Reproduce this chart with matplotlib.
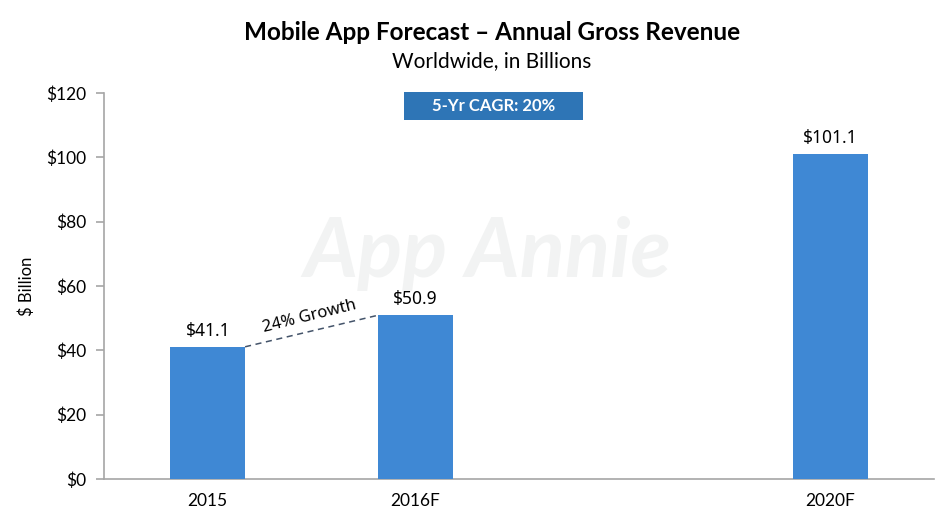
import matplotlib
matplotlib.use("Agg")
import matplotlib.pyplot as plt
from matplotlib.patches import Rectangle

categories = ["2015", "2016F", "2020F"]
positions = [0, 1, 3]
revenue = [41.1, 50.9, 101.1]
value_labels = ["$41.1", "$50.9", "$101.1"]
yticks = [0, 20, 40, 60, 80, 100, 120]
ytick_labels = ["$0", "$20", "$40", "$60", "$80", "$100", "$120"]
growth_label = "24% Growth"
cagr_label = "5-Yr CAGR: 20%"

plt.rcParams['font.family'] = ['Lato', 'DejaVu Sans']

fig = plt.figure(figsize=(9.42, 5.29), dpi=100)
fig.patch.set_facecolor("white")
ax = fig.add_axes([0.1104, 0.0945, 0.881, 0.7297])

bar_color = "#3f88d4"
width = 0.36
bars = ax.bar(positions, revenue, width=width, color=bar_color, zorder=3)

ax.set_xlim(-0.5, 3.5)
ax.set_ylim(0, 120)
ax.set_yticks(yticks)
ax.set_yticklabels(ytick_labels, fontsize=12.5)
ax.set_xticks(positions)
ax.set_xticklabels(categories, fontsize=12.5)

for s in ["top", "right"]:
    ax.spines[s].set_visible(False)
for s in ["left", "bottom"]:
    ax.spines[s].set_color("#a6a6a6")
    ax.spines[s].set_linewidth(1.2)
ax.tick_params(axis="y", length=6, color="#a6a6a6", width=1.2, pad=7)
ax.tick_params(axis="x", length=0, pad=10)
ax.set_ylabel("$ Billion", fontsize=12, labelpad=8)

# value labels
for p, v, lab in zip(positions, revenue, value_labels):
    ax.annotate(lab, (p, v), xytext=(0, 5), textcoords="offset points",
                ha="center", va="bottom", fontsize=12.5, family=["Noto Sans", "DejaVu Sans"])

# growth dashed connector
x0 = positions[0] + width / 2
x1 = positions[1] - width / 2
ax.plot([x0, x1], [revenue[0], revenue[1]], ls=(0, (4, 3)), color="#44546a", lw=1.1, zorder=4)
ax.text((x0 + x1) / 2, (revenue[0] + revenue[1]) / 2 + 2.2, growth_label,
        rotation=14, ha="center", va="bottom", fontsize=12, family=["Noto Sans", "DejaVu Sans"],
        rotation_mode="anchor")

# watermark
ax.text(1.35, 70, "App Annie", fontsize=60, style="italic", fontweight="bold", color="#f2f3f3",
        ha="center", va="center", zorder=1, family=["Lato", "DejaVu Sans"])

# CAGR box
ax.add_patch(Rectangle((0.946, 111.6), 0.862, 8.7, facecolor="#2e75b6", edgecolor="none",
                       clip_on=False, zorder=5))
ax.text(0.946 + 0.431, 115.95, cagr_label, ha="center", va="center", fontsize=12,
        fontweight="bold", color="white", zorder=6)

fig.text(0.522, 0.938, "Mobile App Forecast \u2013 Annual Gross Revenue", ha="center",
         va="center", fontsize=17.5, fontweight="bold")
fig.text(0.522, 0.885, "Worldwide, in Billions", ha="center", va="center", fontsize=15)

fig.savefig("out.png", dpi=100, facecolor="white")
